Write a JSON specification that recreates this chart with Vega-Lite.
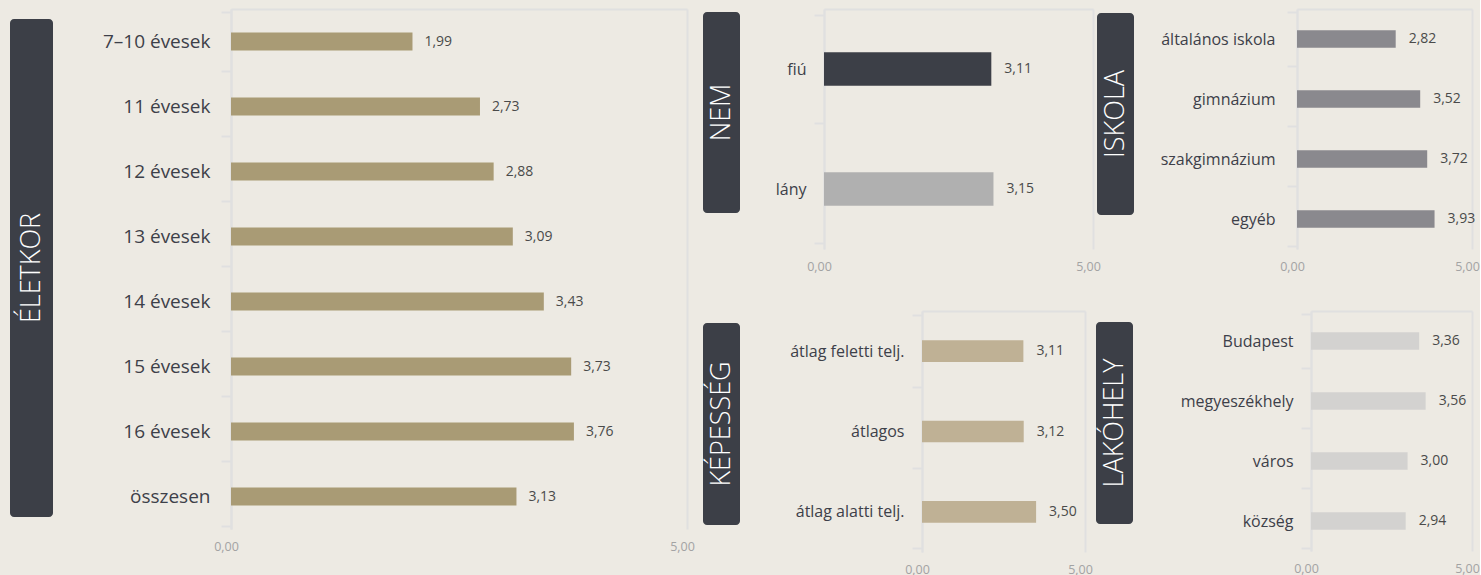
{
  "$schema": "https://vega.github.io/schema/vega-lite/v6.json",
  "background": "#EDEAE3",
  "padding": {"left": 10, "top": 0, "right": 0, "bottom": 0},
  "bounds": "flush",
  "spacing": 0,
  "config": {
    "view": {"stroke": null},
    "locale": {"number": {"decimal": ",", "thousands": " ", "grouping": [3], "currency": ["", ""]}},
    "font": "Open Sans",
    "axisY": {
      "domain": true, "domainColor": "#E0E0E0", "domainWidth": 2,
      "ticks": true, "tickBand": "extent", "tickColor": "#E0E0E0", "tickWidth": 2, "tickSize": 10,
      "grid": false, "labelColor": "#3D4049", "labelFont": "Open Sans", "title": null
    },
    "axisX": {
      "format": ".2f", "grid": true, "gridColor": "#E0E0E0", "gridWidth": 2,
      "domain": false, "ticks": false, "labelColor": "#A3A3A3", "labelFontSize": 12.5,
      "labelPadding": 11, "labelOffset": -5, "labelFlush": false, "labelFont": "Open Sans", "title": null
    }
  },
  "hconcat": [
    {
      "bounds": "flush", "spacing": 0,
      "vconcat": [
        {"width": 43, "height": 10, "data": {"values": []}, "mark": "point", "encoding": {}},
        {"width": 43, "height": 498, "data": {"values": [{"t": "ÉLETKOR"}]},
         "view": {"fill": "#3C3F47", "stroke": null, "cornerRadius": 4},
         "mark": {"type": "text", "angle": 270, "color": "#FFFFFF", "fontSize": 27, "font": "Open Sans", "fontWeight": 300, "align": "center", "baseline": "middle"},
         "encoding": {"text": {"field": "t"}}}
      ]
    },
    {"width": 221, "height": 0, "data": {"values": []}, "mark": "point", "encoding": {}},
    {
      "width": 456, "height": 520,
      "data": {"values": [
        {"cat": "7–10 évesek", "value": 1.99},
        {"cat": "11 évesek", "value": 2.73},
        {"cat": "12 évesek", "value": 2.88},
        {"cat": "13 évesek", "value": 3.09},
        {"cat": "14 évesek", "value": 3.43},
        {"cat": "15 évesek", "value": 3.73},
        {"cat": "16 évesek", "value": 3.76},
        {"cat": "összesen", "value": 3.13}
      ]},
      "encoding": {
        "y": {"field": "cat", "type": "nominal", "sort": null, "axis": {"labelFontSize": 19, "labelPadding": 11}},
        "x": {"field": "value", "type": "quantitative", "scale": {"domain": [0, 5], "nice": false}, "axis": {"orient": "bottom", "values": [0, 5]}}
      },
      "layer": [
        {"mark": {"type": "bar", "height": {"band": 0.31}, "color": "#A99B75"}},
        {"mark": {"type": "text", "align": "left", "dx": 12, "fontSize": 14, "color": "#4A4A4A"},
         "encoding": {"text": {"field": "value", "type": "quantitative", "format": ".2f"},
                      "x": {"field": "value", "type": "quantitative", "axis": {"orient": "top", "labels": false, "grid": false, "domain": true, "domainColor": "#E0E0E0", "domainWidth": 2}}}}
      ]
    },
    {"width": 16, "height": 0, "data": {"values": []}, "mark": "point", "encoding": {}},
    {
      "bounds": "flush", "spacing": 0,
      "vconcat": [
        {
          "bounds": "flush", "spacing": 0,
          "hconcat": [
            {
              "bounds": "flush", "spacing": 0,
              "vconcat": [
                {"width": 37, "height": 3, "data": {"values": []}, "mark": "point", "encoding": {}},
                {"width": 37, "height": 201, "data": {"values": [{"t": "NEM"}]},
                 "view": {"fill": "#3C3F47", "stroke": null, "cornerRadius": 4},
                 "mark": {"type": "text", "angle": 270, "color": "#FFFFFF", "fontSize": 27, "font": "Open Sans", "fontWeight": 300, "align": "center", "baseline": "middle"},
                 "encoding": {"text": {"field": "t"}}}
              ]
            },
            {"width": 121, "height": 0, "data": {"values": []}, "mark": "point", "encoding": {}},
            {
              "width": 269, "height": 240,
              "data": {"values": [
                {"cat": "fiú", "value": 3.11},
                {"cat": "lány", "value": 3.15}
              ]},
              "encoding": {
                "y": {"field": "cat", "type": "nominal", "sort": null, "axis": {"labelFontSize": 16, "labelPadding": 8}},
                "x": {"field": "value", "type": "quantitative", "scale": {"domain": [0, 5], "nice": false}, "axis": {"orient": "bottom", "values": [0, 5]}}
              },
              "layer": [
                {"mark": {"type": "bar", "height": {"band": 0.31}},
                 "encoding": {"color": {"field": "cat", "type": "nominal", "sort": null, "scale": {"domain": ["fiú", "lány"], "range": ["#3C3F47", "#B0B0B0"]}, "legend": null}}},
                {"mark": {"type": "text", "align": "left", "dx": 13, "fontSize": 14, "color": "#4A4A4A"},
                 "encoding": {"text": {"field": "value", "type": "quantitative", "format": ".2f"},
                              "x": {"field": "value", "type": "quantitative", "axis": {"orient": "top", "labels": false, "grid": false, "domain": true, "domainColor": "#E0E0E0", "domainWidth": 2}}}}
              ]
            },
            {"width": 4, "height": 0, "data": {"values": []}, "mark": "point", "encoding": {}},
            {
              "bounds": "flush", "spacing": 0,
              "vconcat": [
                {"width": 37, "height": 4, "data": {"values": []}, "mark": "point", "encoding": {}},
                {"width": 37, "height": 202, "data": {"values": [{"t": "ISKOLA"}]},
                 "view": {"fill": "#3C3F47", "stroke": null, "cornerRadius": 4},
                 "mark": {"type": "text", "angle": 270, "color": "#FFFFFF", "fontSize": 27, "font": "Open Sans", "fontWeight": 300, "align": "center", "baseline": "middle"},
                 "encoding": {"text": {"field": "t"}}}
              ]
            },
            {"width": 200, "height": 0, "data": {"values": []}, "mark": "point", "encoding": {}},
            {
              "width": 175, "height": 240,
              "data": {"values": [
                {"cat": "általános iskola", "value": 2.82},
                {"cat": "gimnázium", "value": 3.52},
                {"cat": "szakgimnázium", "value": 3.72},
                {"cat": "egyéb", "value": 3.93}
              ]},
              "encoding": {
                "y": {"field": "cat", "type": "nominal", "sort": null, "axis": {"labelFontSize": 16, "labelPadding": 12}},
                "x": {"field": "value", "type": "quantitative", "scale": {"domain": [0, 5], "nice": false}, "axis": {"orient": "bottom", "values": [0, 5]}}
              },
              "layer": [
                {"mark": {"type": "bar", "height": {"band": 0.32}, "color": "#8A898E"}},
                {"mark": {"type": "text", "align": "left", "dx": 13, "fontSize": 14, "color": "#4A4A4A"},
                 "encoding": {"text": {"field": "value", "type": "quantitative", "format": ".2f"},
                              "x": {"field": "value", "type": "quantitative", "axis": {"orient": "top", "labels": false, "grid": false, "domain": true, "domainColor": "#E0E0E0", "domainWidth": 2}}}}
              ]
            }
          ]
        },
        {"width": 0, "height": 302, "data": {"values": []}, "mark": "point", "encoding": {}},
        {
          "bounds": "flush", "spacing": 0,
          "hconcat": [
            {
              "bounds": "flush", "spacing": 0,
              "vconcat": [
                {"width": 37, "height": 12, "data": {"values": []}, "mark": "point", "encoding": {}},
                {"width": 37, "height": 202, "data": {"values": [{"t": "KÉPESSÉG"}]},
                 "view": {"fill": "#3C3F47", "stroke": null, "cornerRadius": 4},
                 "mark": {"type": "text", "angle": 270, "color": "#FFFFFF", "fontSize": 27, "font": "Open Sans", "fontWeight": 300, "align": "center", "baseline": "middle"},
                 "encoding": {"text": {"field": "t"}}}
              ]
            },
            {"width": 219, "height": 0, "data": {"values": []}, "mark": "point", "encoding": {}},
            {
              "width": 163, "height": 241,
              "data": {"values": [
                {"cat": "átlag feletti telj.", "value": 3.11},
                {"cat": "átlagos", "value": 3.12},
                {"cat": "átlag alatti telj.", "value": 3.50}
              ]},
              "encoding": {
                "y": {"field": "cat", "type": "nominal", "sort": null, "axis": {"labelFontSize": 16, "labelPadding": 8}},
                "x": {"field": "value", "type": "quantitative", "scale": {"domain": [0, 5], "nice": false}, "axis": {"orient": "bottom", "values": [0, 5]}}
              },
              "layer": [
                {"mark": {"type": "bar", "height": {"band": 0.3}, "color": "#BFB195"}},
                {"mark": {"type": "text", "align": "left", "dx": 13, "fontSize": 14, "color": "#4A4A4A"},
                 "encoding": {"text": {"field": "value", "type": "quantitative", "format": ".2f"},
                              "x": {"field": "value", "type": "quantitative", "axis": {"orient": "top", "labels": false, "grid": false, "domain": true, "domainColor": "#E0E0E0", "domainWidth": 2}}}}
              ]
            },
            {"width": 11, "height": 0, "data": {"values": []}, "mark": "point", "encoding": {}},
            {
              "bounds": "flush", "spacing": 0,
              "vconcat": [
                {"width": 37, "height": 11, "data": {"values": []}, "mark": "point", "encoding": {}},
                {"width": 37, "height": 202, "data": {"values": [{"t": "LAKÓHELY"}]},
                 "view": {"fill": "#3C3F47", "stroke": null, "cornerRadius": 4},
                 "mark": {"type": "text", "angle": 270, "color": "#FFFFFF", "fontSize": 27, "font": "Open Sans", "fontWeight": 300, "align": "center", "baseline": "middle"},
                 "encoding": {"text": {"field": "t"}}}
              ]
            },
            {"width": 215, "height": 0, "data": {"values": []}, "mark": "point", "encoding": {}},
            {
              "width": 161, "height": 240,
              "data": {"values": [
                {"cat": "Budapest", "value": 3.36},
                {"cat": "megyeszékhely", "value": 3.56},
                {"cat": "város", "value": 3.00},
                {"cat": "község", "value": 2.94}
              ]},
              "encoding": {
                "y": {"field": "cat", "type": "nominal", "sort": null, "axis": {"labelFontSize": 16, "labelPadding": 8}},
                "x": {"field": "value", "type": "quantitative", "scale": {"domain": [0, 5], "nice": false}, "axis": {"orient": "bottom", "values": [0, 5]}}
              },
              "layer": [
                {"mark": {"type": "bar", "height": {"band": 0.32}, "color": "#D3D2D0"}},
                {"mark": {"type": "text", "align": "left", "dx": 13, "fontSize": 14, "color": "#4A4A4A"},
                 "encoding": {"text": {"field": "value", "type": "quantitative", "format": ".2f"},
                              "x": {"field": "value", "type": "quantitative", "axis": {"orient": "top", "labels": false, "grid": false, "domain": true, "domainColor": "#E0E0E0", "domainWidth": 2}}}}
              ]
            }
          ]
        }
      ]
    }
  ]
}
